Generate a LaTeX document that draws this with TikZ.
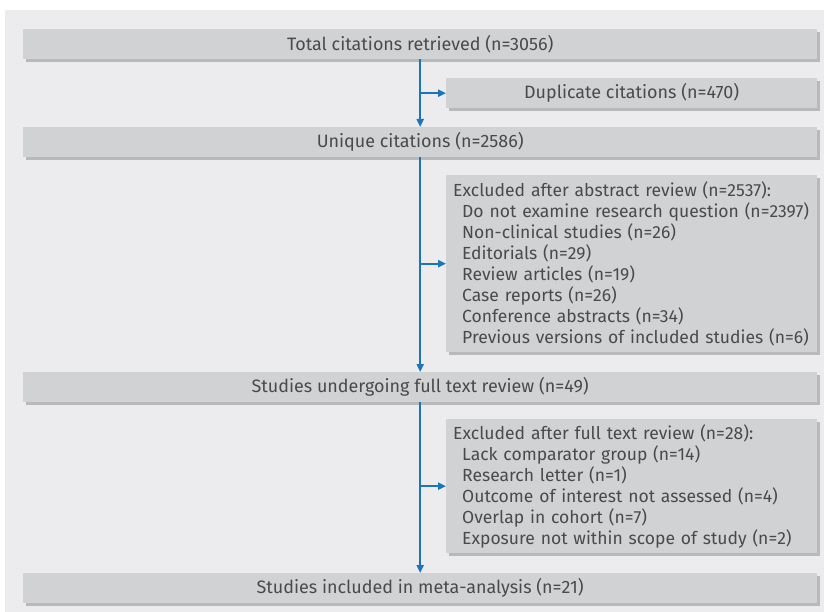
\documentclass[tikz,border=0pt]{standalone}
\usepackage{fontspec}
\setmainfont{Fira Sans}
\usetikzlibrary{arrows.meta,shadows}
\definecolor{panel}{HTML}{ECECEE}
\definecolor{boxgray}{HTML}{D1D2D4}
\definecolor{shadowgray}{HTML}{B8B9BB}
\definecolor{txt}{HTML}{4A4A4C}
\definecolor{flowblue}{HTML}{1B75BC}
\tikzset{
  box/.style={fill=boxgray, inner sep=0pt, text=txt, font=\fontsize{18}{21}\selectfont,
    drop shadow={shadow xshift=3bp, shadow yshift=-3bp, fill=shadowgray, opacity=1}},
  mainbox/.style={box, anchor=north west, minimum width=794bp, minimum height=30bp},
  sidebox/.style={box, anchor=north west, minimum width=371bp},
  listbox/.style={sidebox, text width=357bp, inner xsep=7bp, align=left,
    font=\fontsize{17.6}{21}\selectfont},
  arr/.style={draw=flowblue, line width=2bp, -{Triangle[length=8bp,width=7bp]}}
}
\newcommand{\hd}[1]{\mbox{#1}}
\newcommand{\ind}[1]{\mbox{\hspace*{9bp}#1}}
\begin{document}
\begin{tikzpicture}[x=1bp,y=-1bp]
\useasboundingbox (0,0) rectangle (824,612);
\fill[panel] (5,10) rectangle (824,612);

\node[mainbox] (total) at (23,29) {Total citations retrieved (n=3056)};
\node[sidebox, minimum height=30bp] (dup) at (446,78) {Duplicate citations (n=470)};
\node[mainbox] (unique) at (23,127) {Unique citations (n=2586)};
\node[listbox, minimum height=177bp] (excl1) at (446,175) {\hd{Excluded after abstract review (n=2537):}\\
\ind{Do not examine research question (n=2397)}\\
\ind{Non-clinical studies (n=26)}\\
\ind{Editorials (n=29)}\\
\ind{Review articles (n=19)}\\
\ind{Case reports (n=26)}\\
\ind{Conference abstracts (n=34)}\\
\ind{Previous versions of included studies (n=6)}};
\node[mainbox] (full) at (23,372) {Studies undergoing full text review (n=49)};
\node[listbox, minimum height=134bp] (excl2) at (446,419) {\hd{Excluded after full text review (n=28):}\\
\ind{Lack comparator group (n=14)}\\
\ind{Research letter (n=1)}\\
\ind{Outcome of interest not assessed (n=4)}\\
\ind{Overlap in cohort (n=7)}\\
\ind{Exposure not within scope of study (n=2)}};
\node[mainbox] (final) at (23,573) {Studies included in meta-analysis (n=21)};

\draw[arr] (total.south) -- (unique.north);
\draw[arr] (dup.west -| total.south) -- (dup.west);
\draw[arr] (unique.south) -- (full.north);
\draw[arr] (excl1.west -| unique.south) -- (excl1.west);
\draw[arr] (full.south) -- (final.north);
\draw[arr] (excl2.west -| full.south) -- (excl2.west);
\end{tikzpicture}
\end{document}
